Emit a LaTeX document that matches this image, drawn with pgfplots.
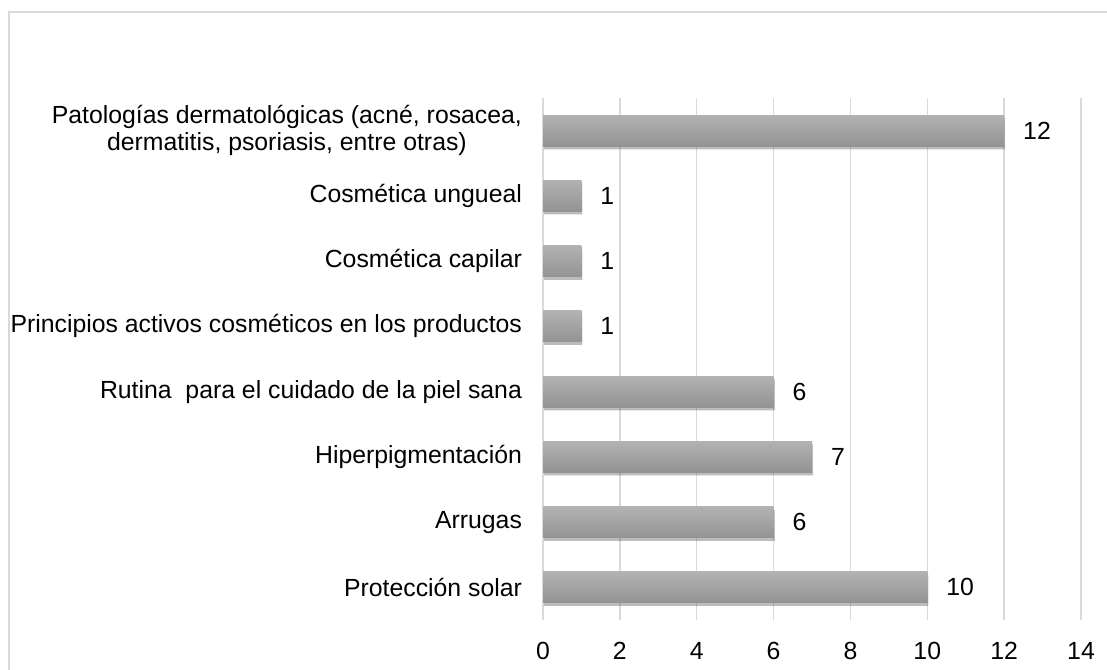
\documentclass[border=0pt]{standalone}
\usepackage{fontspec}
\setmainfont{Liberation Sans}
\usepackage{pgfplots}
\pgfplotsset{compat=1.18}
\usetikzlibrary{shadows}
\definecolor{gridc}{HTML}{D9D9D9}
\definecolor{bartop}{HTML}{B2B2B2}
\definecolor{barbot}{HTML}{939393}
\newcommand{\chartfont}{\fontsize{12.4}{13.2}\selectfont}
\begin{document}
\begin{tikzpicture}
\useasboundingbox (0,0) rectangle (553.5pt,334.5pt);
\draw[gridc, line width=0.9pt] (4.5pt,-2pt) -- (4.5pt,328.5pt) -- (560pt,328.5pt);
\begin{axis}[
  at={(271.5pt,24.5pt)}, anchor=south west,
  scale only axis, width=269pt, height=261pt,
  xbar, bar width=15.5pt, bar shift=0pt,
  xmin=0, xmax=14, ymin=-0.5, ymax=7.5,
  xtick={0,2,...,14}, ytick={0,...,7},
  yticklabels={{Protección solar},{Arrugas},{Hiperpigmentación},{Rutina~ para el cuidado de la piel sana},{Principios activos cosméticos en los productos},{Cosmética capilar},{Cosmética ungueal},{Patologías dermatológicas (acné, rosacea,\\ dermatitis, psoriasis, entre otras)}},
  axis line style={draw=none},
  tick style={draw=none},
  major tick length=0pt,
  xmajorgrids,
  major grid style={gridc, line width=0.75pt},
  font=\chartfont,
  yticklabel style={align=center, xshift=-7pt, font=\chartfont},
  xticklabel style={yshift=-7.5pt, font=\chartfont},
  /pgf/number format/assume math mode=true,
  nodes near coords,
  nodes near coords align=horizontal,
  every node near coord/.append style={xshift=6pt, black, font=\chartfont},
  point meta=x,
  barsty/.style={draw=none, top color=bartop, bottom color=barbot,
    drop shadow={shadow xshift=0.5pt, shadow yshift=-1.5pt, opacity=0.22, fill=black}},
]
\addplot[barsty] coordinates {(10,0)};
\addplot[barsty] coordinates {(6,1)};
\addplot[barsty] coordinates {(7,2)};
\addplot[barsty] coordinates {(6,3)};
\addplot[barsty] coordinates {(1,4)};
\addplot[barsty] coordinates {(1,5)};
\addplot[barsty] coordinates {(1,6)};
\addplot[barsty] coordinates {(12,7)};
\end{axis}
\end{tikzpicture}
\end{document}
